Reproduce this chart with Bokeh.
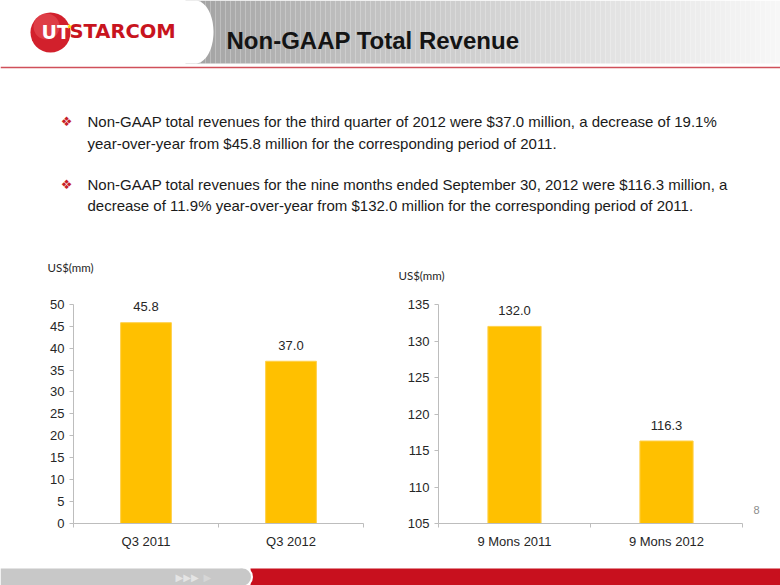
import math
from bokeh.plotting import figure
from bokeh.layouts import column, row
from bokeh.models import Range1d, FixedTicker, LabelSet, ColumnDataSource
from bokeh.core.properties import value
from bokeh.embed import file_html
from bokeh.resources import INLINE

# ---------------- data ----------------
q_categories = ["Q3 2011", "Q3 2012"]
q_values = [45.8, 37.0]
q_value_labels = ["45.8", "37.0"]
q_ticks = [0, 5, 10, 15, 20, 25, 30, 35, 40, 45, 50]

n_categories = ["9 Mons 2011", "9 Mons 2012"]
n_values = [132.0, 116.3]
n_value_labels = ["132.0", "116.3"]
n_ticks = [105, 110, 115, 120, 125, 130, 135]

title_text = "Non-GAAP Total Revenue"
bullet_lines_1 = [
    "Non-GAAP total revenues for the third quarter of 2012 were $37.0 million, a decrease of 19.1%",
    "year-over-year from $45.8 million for the corresponding period of 2011.",
]
bullet_lines_2 = [
    "Non-GAAP total revenues for the nine months ended September 30, 2012 were $116.3 million, a",
    "decrease of 11.9% year-over-year from $132.0 million for the corresponding period of 2011.",
]
unit_label = "US$(mm)"
page_number = "8"

ARIAL = value("Liberation Sans")
BAR = "#FFC000"
AXIS_GRAY = "#BDBDBD"
TEXT_DARK = "#262626"


def canvas(x0, x1, y0, y1):
    p = figure(width=int(x1 - x0), height=int(y1 - y0),
               x_range=Range1d(x0, x1), y_range=Range1d(y1, y0),
               output_backend="svg", toolbar_location=None,
               x_axis_location=None, y_axis_location=None,
               min_border_left=0, min_border_right=0, min_border_top=0, min_border_bottom=0)
    p.outline_line_color = None
    p.grid.visible = False
    p.xgrid.visible = False
    p.ygrid.visible = False
    p.background_fill_color = "white"
    p.border_fill_color = "white"
    return p


# ---------------- top: header + bullets ----------------
top = canvas(0, 780, 0, 282)

# header gradient strips
lefts, rights, cols = [], [], []
x = 185
while x < 780:
    t = (x - 185) / 595.0
    g = int(160 + (248 - 160) * (t ** 0.8))
    lefts.append(x)
    rights.append(x + 5)
    cols.append("#%02x%02x%02x" % (g, g, g))
    x += 5
top.quad(left=lefts, right=rights, top=[0] * len(lefts), bottom=[63] * len(lefts),
         fill_color=cols, line_color=None)

# white logo panel with curved right edge
px, py = [0], [0]
for k in range(0, 41):
    a = math.pi / 2 - math.pi * k / 40
    px.append(195 + 18 * math.cos(a))
    py.append(31.5 - 31.5 * math.sin(a))
px.append(0)
py.append(63)
top.patch(px, py, fill_color="white", line_color=None)

# red separator line
top.line([0, 780], [67, 67], line_color="#D0505A", line_width=1.6)

# logo
top.circle(x=[50], y=[32], radius=20, fill_color="#D2202C", line_color=None)
top.circle(x=[46], y=[26], radius=13, fill_color="#E8555C", line_color=None, fill_alpha=0.55)
top.text(x=[41], y=[31], text=["UT"], text_font=value("DejaVu Sans"), text_font_style="bold",
         text_font_size="19px", text_baseline="middle", text_color="white")
top.text(x=[69], y=[31], text=["STARCOM"], text_font=value("DejaVu Sans"), text_font_style="bold",
         text_font_size="19.5px", text_baseline="middle", text_color="#C8141E")
top.scatter(x=[69], y=[26], marker="star", size=6, fill_color="#FFD200", line_color=None)

# title
top.text(x=[226], y=[40], text=[title_text], text_font=ARIAL, text_font_style="bold",
         text_font_size="24px", text_baseline="middle", text_color="#141414")

# bullets
top.text(x=[66, 66], y=[121, 184], text=["\u2756", "\u2756"], text_align="center",
         text_baseline="middle", text_font=value("DejaVu Sans"), text_font_size="13px",
         text_color="#C81E28")
top.text(x=[87, 87, 87, 87], y=[121, 143, 184, 205],
         text=bullet_lines_1 + bullet_lines_2, text_font=ARIAL, text_font_size="15px",
         text_baseline="middle", text_color="#1a1a1a")

# unit labels
top.text(x=[47, 398], y=[267, 275], text=[unit_label, unit_label], text_font=value("Lato"),
         text_font_size="11.5px", text_baseline="middle", text_color=TEXT_DARK)


# ---------------- charts ----------------
def chart(cats, vals, labels, ticks, width, height, left, right, axis_top, axis_height, bottom_b):
    n = len(cats)
    xs = [i + 0.5 for i in range(n)]
    ymin, ymax = ticks[0], ticks[-1]
    head_px = 14  # headroom above the top tick for the value labels
    pad = head_px * (ymax - ymin) / axis_height
    top_b = axis_top - head_px
    p = figure(width=width, height=height, x_range=Range1d(0, n),
               y_range=Range1d(ymin, ymax + pad),
               output_backend="svg", toolbar_location=None,
               min_border_left=left, min_border_right=right,
               min_border_top=top_b, min_border_bottom=bottom_b)
    p.outline_line_color = None
    p.grid.visible = False
    p.background_fill_color = "white"
    p.border_fill_color = "white"
    p.vbar(x=xs, top=vals, bottom=ymin, width=0.35, fill_color=BAR, line_color="#FFD04A",
           line_width=1)
    src = ColumnDataSource(dict(x=xs, y=vals, t=labels))
    p.add_layout(LabelSet(x="x", y="y", text="t", source=src, y_offset=16,
                          text_align="center", text_baseline="middle",
                          text_font=ARIAL, text_font_size="13px", text_color=TEXT_DARK))
    # x axis
    xa = p.xaxis[0]
    xa.ticker = FixedTicker(ticks=xs, minor_ticks=list(range(n + 1)))
    xa.major_label_overrides = {xv: c for xv, c in zip(xs, cats)}
    xa.major_tick_line_color = None
    xa.major_tick_out = 4
    xa.major_tick_in = 0
    xa.minor_tick_out = 4
    xa.minor_tick_in = 0
    xa.minor_tick_line_color = AXIS_GRAY
    xa.axis_line_color = AXIS_GRAY
    xa.major_label_standoff = 6
    xa.major_label_text_font = "Liberation Sans"
    xa.major_label_text_font_size = "13px"
    xa.major_label_text_color = TEXT_DARK
    # y axis
    ya = p.yaxis[0]
    ya.ticker = FixedTicker(ticks=ticks)
    ya.bounds = (ymin, ymax)
    ya.major_tick_out = 4
    ya.major_tick_in = 0
    ya.minor_tick_line_color = None
    ya.major_tick_line_color = AXIS_GRAY
    ya.axis_line_color = AXIS_GRAY
    ya.major_label_standoff = 5
    ya.major_label_text_font = "Liberation Sans"
    ya.major_label_text_font_size = "13px"
    ya.major_label_text_color = TEXT_DARK
    return p


# chart row spans y 282..565
c1 = chart(q_categories, q_values, q_value_labels, q_ticks, 380, 283, 73, 17, 18, 223, 42)
c2 = chart(n_categories, n_values, n_value_labels, n_ticks, 370, 283, 58, 8, 22, 219, 42)

pg = canvas(750, 780, 282, 565)
pg.text(x=[756], y=[548], text=[page_number], text_align="center", text_baseline="middle",
        text_font=ARIAL, text_font_size="11px", text_color="#8C8C8C")

# ---------------- footer ----------------
foot = canvas(0, 780, 565, 585)
foot.quad(left=[250], right=[780], top=[568], bottom=[585], fill_color="#C8101E", line_color=None)
foot.circle(x=[242], y=[576.5], radius=10.5, fill_color="white", line_color=None)
foot.quad(left=[0], right=[242], top=[568], bottom=[585], fill_color="#C8C8C8", line_color=None)
foot.circle(x=[242], y=[576.5], radius=8.5, fill_color="#C8C8C8", line_color=None)
foot.text(x=[175], y=[577], text=["\u25B6\u25B6\u25B6"], text_font=value("DejaVu Sans"),
          text_font_size="10px", text_baseline="middle", text_color="#E4E4E4")
foot.text(x=[203], y=[577], text=["\u25B6"], text_font=value("DejaVu Sans"),
          text_font_size="10px", text_baseline="middle", text_color="#D6D6D6")

layout = column(top, row(c1, c2, pg), foot)

open("out.html", "w").write(file_html(layout, INLINE))
